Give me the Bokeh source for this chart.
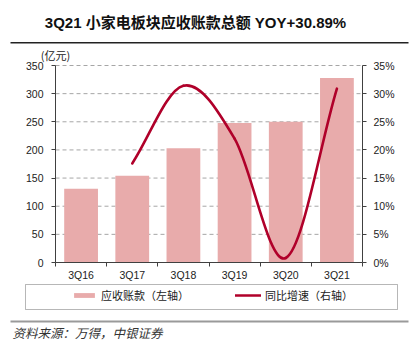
from bokeh.plotting import figure
from bokeh.models import (Range1d, LinearAxis, FixedTicker, Label, BoxAnnotation,
                          Legend, LegendItem)
from bokeh.embed import file_html
from bokeh.resources import INLINE

# ---- data ----
quarters = ["3Q16", "3Q17", "3Q18", "3Q19", "3Q20", "3Q21"]
receivables = [131, 154, 203, 248, 250, 328]          # 亿元 (left axis)
yoy_quarters = ["3Q17", "3Q18", "3Q19", "3Q20", "3Q21"]
yoy_pct = [17.6, 31.4, 22.0, 0.8, 30.89]               # % (right axis)
left_ticks = [0, 50, 100, 150, 200, 250, 300, 350]
right_ticks = [0, 5, 10, 15, 20, 25, 30, 35]
right_tick_labels = ["0%", "5%", "10%", "15%", "20%", "25%", "30%", "35%"]

title_text = "3Q21 小家电板块应收账款总额 YOY+30.89%"
unit_text = "(亿元)"
legend_bar = "应收账款（左轴）"
legend_line = "同比增速（右轴）"
source_text = "资料来源：万得，中银证券"

BAR = "#E8ABAB"
LINE = "#B0002A"
AX = "#404040"
LAT = "'Liberation Sans', 'Noto Sans CJK SC'"
CJK = "'Noto Sans CJK SC'"

# ---- layout (canvas pixels) ----
W, H = 411, 351
PX0, PX1 = 55, 362      # plot area left/right
PY0, PY1 = 262, 65      # y of value 0 / value 350
NCAT = len(quarters)
YMAX = 350.0
PMAX = 35.0

ppx = (PX1 - PX0) / NCAT
ppy = (PY0 - PY1) / YMAX
x_start, x_end = -PX0 / ppx, (W - PX0) / ppx
y_start, y_end = -(H - PY0) / ppy, PY0 / ppy
k = PMAX / YMAX

p = figure(width=W, height=H, output_backend="svg", toolbar_location=None,
           x_range=Range1d(x_start, x_end), y_range=Range1d(y_start, y_end),
           min_border=0, min_border_left=0, min_border_right=0,
           min_border_top=0, min_border_bottom=0, x_axis_type=None, y_axis_type=None)
p.outline_line_color = None
p.background_fill_color = "white"
p.border_fill_color = "white"
p.title.visible = False
p.xgrid.visible = False
p.ygrid.visible = False
p.extra_y_ranges = {"pct": Range1d(y_start * k, y_end * k)}

# dashed grid lines (plot area only)
p.segment(x0=[0] * len(left_ticks), x1=[NCAT] * len(left_ticks), y0=left_ticks,
          y1=left_ticks, line_color="#A6A6A6", line_dash="4 3", line_width=1)

pos = {q: i + 0.5 for i, q in enumerate(quarters)}
bar_x = [pos[q] for q in quarters]
bars = p.vbar(x=bar_x, top=receivables, width=0.66, fill_color=BAR, line_color=None)

# smooth (Catmull-Rom -> Bezier) line through the yoy points
lx = [pos[q] for q in yoy_quarters]
ly = yoy_pct
n = len(lx)
mx, my = [], []
for i in range(n):
    a = max(i - 1, 0)
    b = min(i + 1, n - 1)
    f = 0.5 if (0 < i < n - 1) else 1.0
    mx.append((lx[b] - lx[a]) * f)
    my.append((ly[b] - ly[a]) * f)
x0 = lx[:-1]; y0 = ly[:-1]; x1 = lx[1:]; y1 = ly[1:]
cx0 = [lx[i] + mx[i] / 3 for i in range(n - 1)]
cy0 = [ly[i] + my[i] / 3 for i in range(n - 1)]
cx1 = [lx[i + 1] - mx[i + 1] / 3 for i in range(n - 1)]
cy1 = [ly[i + 1] - my[i + 1] / 3 for i in range(n - 1)]
curve = p.bezier(x0=x0, y0=y0, x1=x1, y1=y1, cx0=cx0, cy0=cy0, cx1=cx1, cy1=cy1,
                 line_color=LINE, line_width=2.6, line_cap="round", y_range_name="pct")

# axes (placed at data locations inside the full-canvas frame)
xa = LinearAxis(ticker=FixedTicker(ticks=bar_x, minor_ticks=list(range(NCAT + 1))),
                fixed_location=0, bounds=(0, NCAT))
xa.major_label_overrides = {pos[q]: q for q in quarters}
xa.major_tick_out = 0
xa.major_tick_in = 0
xa.minor_tick_out = 4
xa.minor_tick_in = 0
xa.major_label_standoff = 2
p.add_layout(xa, "below")

ly_ax = LinearAxis(ticker=FixedTicker(ticks=left_ticks), fixed_location=0,
                   bounds=(0, YMAX))
ly_ax.major_tick_out = 4
ly_ax.major_tick_in = 0
ly_ax.minor_tick_out = 0
ly_ax.major_label_standoff = 8
p.add_layout(ly_ax, "left")

ry = LinearAxis(y_range_name="pct", ticker=FixedTicker(ticks=right_ticks),
                fixed_location=NCAT, bounds=(0, PMAX))
ry.major_label_overrides = dict(zip(right_ticks, right_tick_labels))
ry.major_tick_out = 4
ry.major_tick_in = 0
ry.minor_tick_out = 0
ry.major_label_standoff = 7
p.add_layout(ry, "right")

for ax in (xa, ly_ax, ry):
    ax.axis_line_color = AX
    ax.major_tick_line_color = AX
    ax.minor_tick_line_color = AX
    ax.major_label_text_font = LAT
    ax.major_label_text_font_size = "10.5px"
    ax.major_label_text_color = "#222222"
    ax.axis_line_width = 1

# legend
legend = Legend(items=[LegendItem(label=legend_bar, renderers=[bars]),
                       LegendItem(label=legend_line, renderers=[curve])],
                orientation="horizontal", location=(71, H - 303),
                border_line_alpha=0, background_fill_alpha=0,
                glyph_width=26, glyph_height=6, label_height=13,
                label_standoff=4, spacing=46, padding=0, margin=0,
                label_text_font=CJK, label_text_font_size="11px",
                label_text_color="#222222")
p.add_layout(legend, "center")

def box(l, r, t, b, **kw):
    return BoxAnnotation(left=l, right=r, top=H - t, bottom=H - b,
                         left_units="screen", right_units="screen",
                         top_units="screen", bottom_units="screen", **kw)

p.add_layout(box(25, 397, 284, 309, fill_alpha=0, line_color="#111111", line_width=1))
p.add_layout(box(10, 408, 41.5, 43, fill_color="#222222", fill_alpha=1, line_color=None))
p.add_layout(box(10, 408, 320, 322, fill_color="#9A9A9A", fill_alpha=1, line_color=None))

def label(text, x, y, **kw):
    return Label(text=text, x=x, y=H - y, x_units="screen", y_units="screen", **kw)

p.add_layout(label(title_text, 195, 22, text_font=LAT, text_font_size="15px",
                   text_font_style="bold", text_align="center", text_baseline="middle",
                   text_color="#111111"))
p.add_layout(label(unit_text, 55, 54, text_font=CJK, text_font_size="11px",
                   text_align="center", text_baseline="middle", text_color="#222222"))
p.add_layout(label(source_text, 12, 332, text_font=CJK, text_font_size="12.5px",
                   text_font_style="italic", text_align="left", text_baseline="middle",
                   text_color="#333333"))

open("out.html", "w").write(file_html(p, INLINE))
